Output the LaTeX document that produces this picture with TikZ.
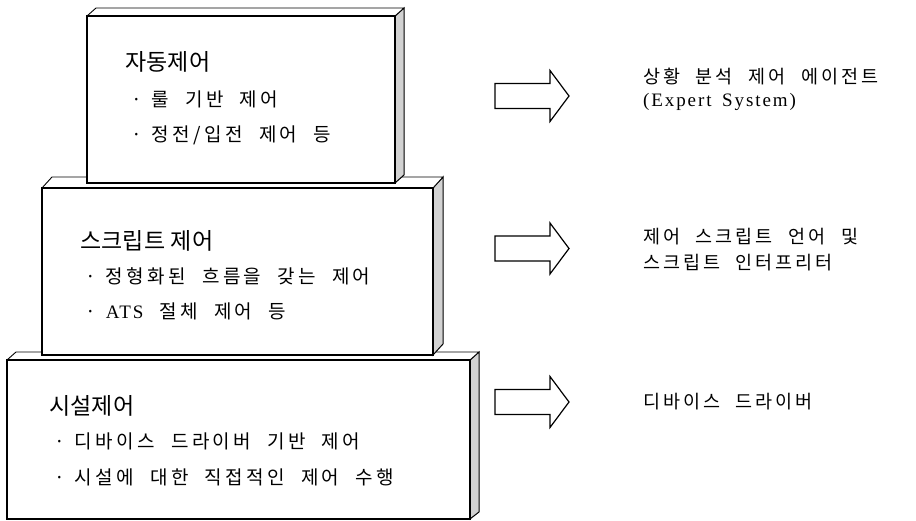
\documentclass[tikz,border=0pt]{standalone}
\usepackage{fontspec}
\newfontfamily\krT{Noto Sans CJK KR}[LetterSpace=1]
\newfontfamily\krB{Noto Sans CJK KR}[LetterSpace=18,WordSpace=2.1]
\newfontfamily\krR{Noto Sans CJK KR}[LetterSpace=16,WordSpace=2.2]
\newfontfamily\latS{Liberation Serif}[LetterSpace=10,WordSpace=1.6]
\newcommand\blockarrowat[1]{%
  \draw[blockarr] (#1) ++(0,-12.5) -- ++(55,0) -- ++(0,-13) -- ++(19,25.5)
    -- ++(-19,25.5) -- ++(0,-13) -- ++(-55,0) -- cycle;}
\newcommand\bdot{·\kern10pt}
\begin{document}
\begin{tikzpicture}[x=1pt,y=-1pt,
  frontface/.style={fill=white,draw=black,line width=1.4pt},
  topface/.style={fill=white,draw=black,line width=0.9pt,line join=round},
  sideface/.style={fill=gray!35,draw=black,line width=1pt},
  ttl/.style={anchor=west,inner sep=0pt,font=\krT\fontsize{23}{26}\selectfont},
  bul/.style={anchor=west,inner sep=0pt,font=\krB\fontsize{19}{22}\selectfont},
  lbl/.style={anchor=west,inner sep=0pt,font=\krR\fontsize{18.5}{22}\selectfont},
  blockarr/.style={draw=black,fill=white,line width=1.2pt,line join=miter}]
\useasboundingbox (0,0) rectangle (916,521);
% box 3 (bottom)
\draw[sideface] (470,360) -- (479,352) -- (479,512) -- (470,519) -- cycle;
\draw[topface] (7,360) -- (16,352) -- (479,352) -- (470,360) -- cycle;
\draw[frontface] (7,360) rectangle (470,519);
% box 2 (middle)
\draw[sideface] (433,188) -- (443,177) -- (443,344) -- (433,355) -- cycle;
\draw[topface] (42,188) -- (52,177) -- (443,177) -- (433,188) -- cycle;
\draw[frontface] (42,188) rectangle (433,355);
% box 1 (top)
\draw[sideface] (395,16) -- (404,8) -- (404,175) -- (395,183) -- cycle;
\draw[topface] (87,16) -- (96,8) -- (404,8) -- (395,16) -- cycle;
\draw[frontface] (87,16) rectangle (395,183);
% texts in boxes
\node[ttl] (t1) at (125,62) {자동제어};
\node[bul] (t1a) at (131,99) {\bdot 룰 기반 제어};
\node[bul] (t1b) at (131,135) {\bdot 정전/입전 제어 등};
\node[ttl] (t2) at (80,241) {스크립트 제어};
\node[bul] (t2a) at (85,276) {\bdot 정형화된 흐름을 갖는 제어};
\node[bul] (t2b) at (85,311) {\bdot {\latS\fontsize{19}{22}\selectfont ATS} 절체 제어 등};
\node[ttl] (t3) at (49,406) {시설제어};
\node[bul] (t3a) at (54,441) {\bdot 디바이스 드라이버 기반 제어};
\node[bul] (t3b) at (54,477) {\bdot 시설에 대한 직접적인 제어 수행};
% arrows
\coordinate (a1) at (495,96);
\coordinate (a2) at (495,248.5);
\coordinate (a3) at (495,402);
\blockarrowat{a1}
\blockarrowat{a2}
\blockarrowat{a3}
% right labels
\node[lbl] (r1a) at (643,77) {상황 분석 제어 에이전트};
\node[lbl] (r1b) at (643,102) {\latS\fontsize{19}{22}\selectfont (Expert System)};
\node[lbl] (r2a) at (643,237) {제어 스크립트 언어 및};
\node[lbl] (r2b) at (643,263) {스크립트 인터프리터};
\node[lbl] (r3) at (643,402) {디바이스 드라이버};
\end{tikzpicture}
\end{document}
